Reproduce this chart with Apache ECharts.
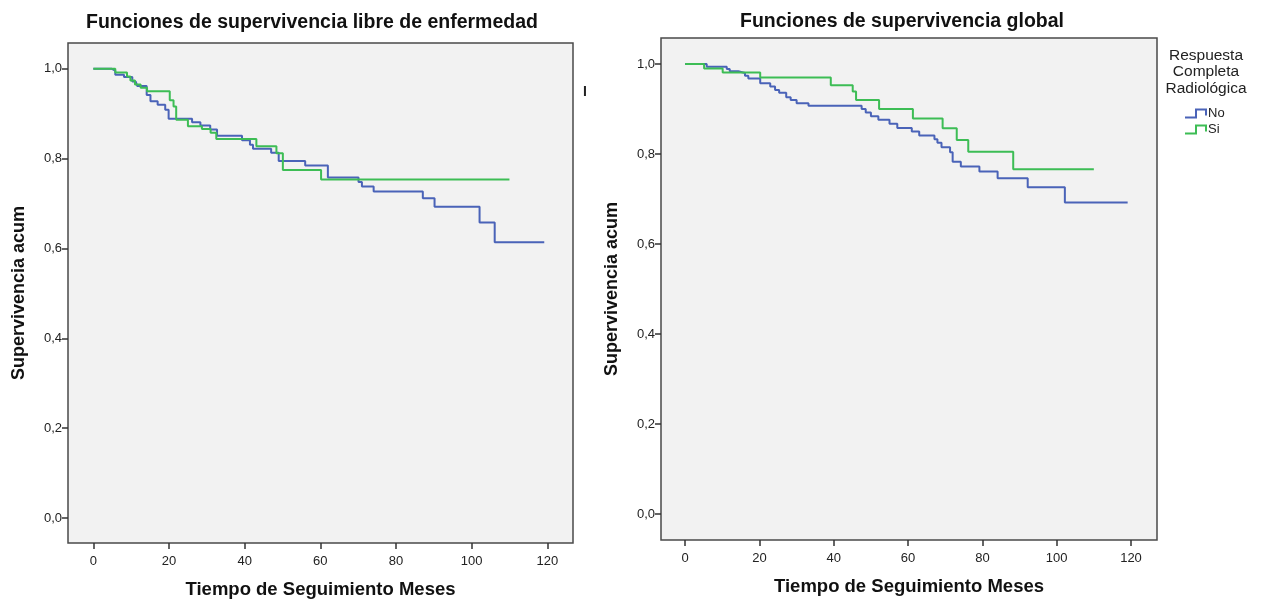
<!DOCTYPE html>
<html>
<head>
<meta charset="utf-8">
<script src="https://cdn.jsdelivr.net/npm/echarts@6/dist/echarts.min.js"></script>
<style>
html,body{margin:0;padding:0;background:#fff;}
#chart{width:1263px;height:604px;}
</style>
</head>
<body>
<div id="chart"></div>
<script>
// ---- Data ----
var xTicks = [0, 20, 40, 60, 80, 100, 120];
var yTicks = [0, 0.2, 0.4, 0.6, 0.8, 1.0];
var groupNames = ['No', 'Si'];

// Left: Funciones de supervivencia libre de enfermedad
var dfsNoTime = [0, 4.9, 5.8, 8.1, 10.3, 11.2, 11.6, 14.1, 15.1, 17, 19, 19.9, 26.1, 28.3, 30.9, 32.7, 39.3, 41.4, 42.2, 47, 49, 56, 62, 70.1, 71, 74.1, 87.1, 90.2, 102.1, 106.1, 119.2];
var dfsNoSurv = [1, 0.996, 0.987, 0.982, 0.972, 0.968, 0.962, 0.942, 0.928, 0.92, 0.909, 0.889, 0.881, 0.874, 0.865, 0.851, 0.841, 0.831, 0.822, 0.813, 0.795, 0.785, 0.758, 0.748, 0.738, 0.727, 0.712, 0.693, 0.658, 0.614, 0.614];
var dfsSiTime = [0, 5.8, 8.9, 9.8, 11, 12.5, 14.2, 20.2, 21.2, 21.9, 25, 28.7, 31, 32.5, 43.1, 48.4, 50.1, 60.2, 110];
var dfsSiSurv = [1, 0.992, 0.983, 0.974, 0.965, 0.958, 0.95, 0.93, 0.916, 0.887, 0.872, 0.866, 0.858, 0.844, 0.828, 0.812, 0.775, 0.754, 0.754];

// Right: Funciones de supervivencia global
var osNoTime = [0, 5.8, 11.2, 12, 14.3, 16.1, 17, 20.2, 22.9, 24.2, 25.3, 27.2, 28.4, 30, 33.2, 47.5, 48.6, 50, 52, 55, 57.1, 61, 63, 67.1, 67.9, 69, 71.3, 72, 74.2, 79.2, 84.1, 92.2, 102.2, 119.1];
var osNoSurv = [1, 0.994, 0.989, 0.984, 0.98, 0.974, 0.968, 0.957, 0.95, 0.942, 0.936, 0.926, 0.92, 0.913, 0.907, 0.9, 0.892, 0.884, 0.876, 0.867, 0.858, 0.85, 0.841, 0.833, 0.825, 0.815, 0.804, 0.783, 0.772, 0.761, 0.746, 0.726, 0.692, 0.692];
var osSiTime = [0, 5.1, 10.1, 20.2, 39.2, 45.1, 46, 52.2, 61.3, 69.3, 73.1, 76.2, 88.3, 110];
var osSiSurv = [1, 0.99, 0.981, 0.97, 0.953, 0.939, 0.92, 0.9, 0.879, 0.857, 0.831, 0.805, 0.766, 0.766];

// ---- Styles ----
var BLUE = '#4a63b8';
var GREEN = '#3dbd55';
var FONT = 'Liberation Sans, Arial, sans-serif';

function zip(t, s) { return t.map(function (v, i) { return [v, s[i]]; }); }
function fmt(v) { return v.toFixed(1).replace('.', ','); }

function xAxisCfg(gi, min, max) {
  return {
    type: 'value', gridIndex: gi, min: min, max: max, position: 'bottom',
    name: 'Tiempo de Seguimiento Meses', nameLocation: 'middle', nameGap: 37,
    nameTextStyle: { fontFamily: FONT, fontSize: 18.5, fontWeight: 'bold', color: '#111' },
    axisLine: { show: false, onZero: false },
    splitLine: { show: false },
    axisTick: { show: true, inside: false, length: 6, customValues: xTicks, lineStyle: { color: '#333', width: 1.5 } },
    axisLabel: { customValues: xTicks, margin: 12, fontFamily: FONT, fontSize: 13, color: '#222', formatter: function (v) { return String(v); } }
  };
}
function yAxisCfg(gi, min, max) {
  return {
    type: 'value', gridIndex: gi, min: min, max: max, position: 'left',
    name: 'Supervivencia acum', nameLocation: 'middle', nameGap: 40,
    nameTextStyle: { fontFamily: FONT, fontSize: 18, fontWeight: 'bold', color: '#111' },
    axisLine: { show: false, onZero: false },
    splitLine: { show: false },
    axisTick: { show: true, inside: false, length: 6, customValues: yTicks, lineStyle: { color: '#333', width: 1.5 } },
    axisLabel: { customValues: yTicks, margin: 6, fontFamily: FONT, fontSize: 13, color: '#222', formatter: fmt }
  };
}
function lineSeries(name, color, xi, t, s) {
  return {
    name: name, type: 'line', step: 'end', xAxisIndex: xi, yAxisIndex: xi,
    data: zip(t, s), showSymbol: false, symbol: 'none',
    lineStyle: { color: color, width: 2 }, itemStyle: { color: color },
    silent: true, animation: false
  };
}

var stepIcon = 'path://M0,8 L10,8 L10,0 L22,0 L22,7 L20,7 L20,2 L12,2 L12,10 L0,10 Z';

var option = {
  backgroundColor: '#ffffff',
  animation: false,
  title: [
    { text: 'Funciones de supervivencia libre de enfermedad', left: 307, top: 8, textAlign: 'center',
      textStyle: { fontFamily: FONT, fontSize: 19.5, fontWeight: 'bold', color: '#111' } },
    { text: 'Funciones de supervivencia global', left: 897, top: 7, textAlign: 'center',
      textStyle: { fontFamily: FONT, fontSize: 19.5, fontWeight: 'bold', color: '#111' } },
    { text: 'Respuesta\nCompleta\nRadiológica', left: 1201, top: 42, textAlign: 'center',
      textStyle: { fontFamily: FONT, fontSize: 15.5, fontWeight: 'normal', color: '#222', lineHeight: 16.5, align: 'center' } },
    { text: 'I', left: 578, top: 80,
      textStyle: { fontFamily: FONT, fontSize: 14, fontWeight: 'bold', color: '#222' } }
  ],
  legend: {
    orient: 'vertical', left: 1185, top: 107, padding: 0, itemWidth: 22, itemHeight: 10, itemGap: 3,
    data: [
      { name: 'No', icon: stepIcon, itemStyle: { color: BLUE } },
      { name: 'Si', icon: stepIcon, itemStyle: { color: GREEN } }
    ],
    textStyle: { fontFamily: FONT, fontSize: 13, color: '#222', padding: [0, 0, 0, -4] },
    selectedMode: false
  },
  grid: [
    { left: 68, top: 43, width: 505, height: 502, show: true, backgroundColor: '#f2f2f2', borderColor: '#4a4a4a', borderWidth: 1.5 },
    { left: 661, top: 38, width: 496, height: 502, show: true, backgroundColor: '#f2f2f2', borderColor: '#4a4a4a', borderWidth: 1.5 }
  ],
  xAxis: [xAxisCfg(0, -6.7, 126.8), xAxisCfg(1, -6.5, 127)],
  yAxis: [yAxisCfg(0, -0.0555, 1.0576), yAxisCfg(1, -0.0578, 1.0578)],
  series: [
    lineSeries(groupNames[0], BLUE, 0, dfsNoTime, dfsNoSurv),
    lineSeries(groupNames[1], GREEN, 0, dfsSiTime, dfsSiSurv),
    lineSeries(groupNames[0], BLUE, 1, osNoTime, osNoSurv),
    lineSeries(groupNames[1], GREEN, 1, osSiTime, osSiSurv)
  ]
};

var chart = echarts.init(document.getElementById('chart'), null, { renderer: 'canvas' });
chart.setOption(option);
</script>
</body>
</html>
